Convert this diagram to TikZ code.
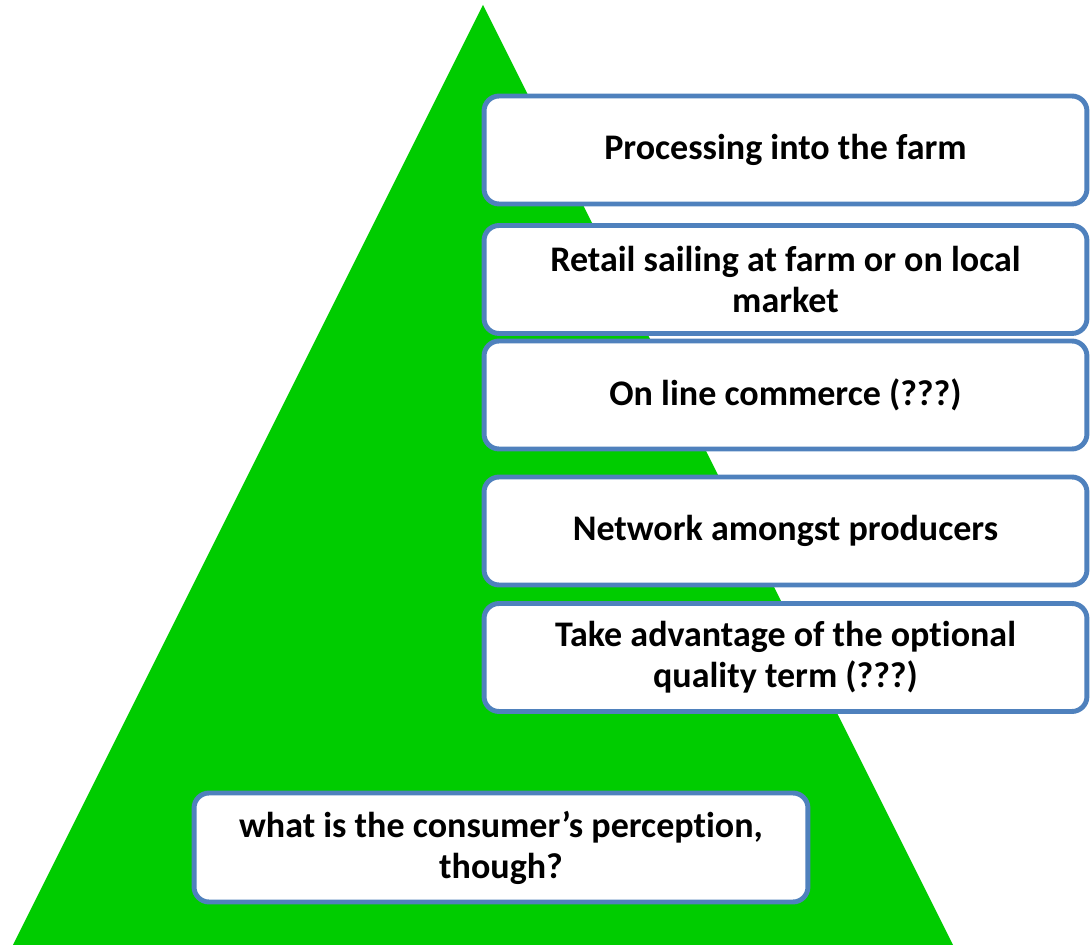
\documentclass[tikz,border=0pt]{standalone}
\usepackage{fontspec}
\setmainfont{Carlito}[Ligatures=NoCommon]
\definecolor{leafgreen}{RGB}{0,204,0}
\definecolor{boxblue}{RGB}{79,129,189}

\begin{document}
\begin{tikzpicture}[x=0.02cm, y=-0.02cm,
			every node/.style={rectangle, rounded corners=0.3cm, draw=boxblue, line width=2.8pt, fill=white,
				align=center, font=\fontsize{20.5}{23.3}\selectfont\bfseries},
			step box/.style={minimum width=12.06cm, minimum height=2.16cm},
			question/.style={minimum width=12.28cm, minimum height=2.18cm}]

		\useasboundingbox (0, 0) rectangle (1090, 945);
		\fill[leafgreen] (483, 5) -- (13, 945) -- (953, 945) -- cycle;

		\node[step box] (1) at (785.5, 150) {Processing into the farm};
		\node[step box] (2) at (785.5, 279.5) {Retail sailing at farm or on local\\ market};
		\node[step box] (3) at (785.5, 395) {On line commerce (???)};
		\node[step box] (4) at (785.5, 531) {Network amongst producers};
		\node[step box] (5) at (785.5, 657.5) {Take advantage of the optional\\ quality term (???)};

		\node[question] (q) at (501, 847.5) {what is the consumer’s perception,\\ though?};
	\end{tikzpicture}
\end{document}
